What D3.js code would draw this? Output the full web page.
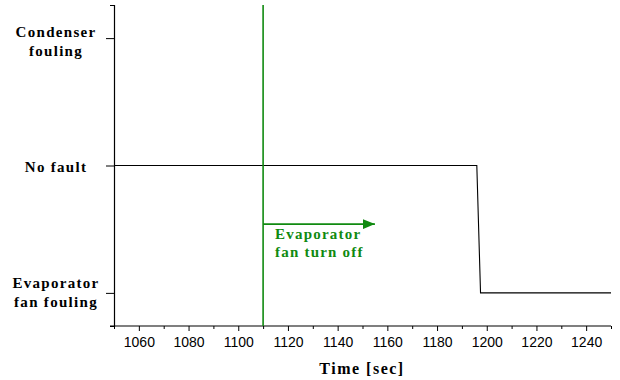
<!DOCTYPE html>
<html>
<head>
<meta charset="utf-8">
<script src="https://cdn.jsdelivr.net/npm/d3@7"></script>
<style>
  html, body { margin: 0; padding: 0; background: #fff; }
  svg { display: block; }
</style>
</head>
<body>
<svg id="chart" width="620" height="380"></svg>
<script>
// Fault state over time
const times  = [1050, 1196, 1197.5, 1250];
const states = [2, 2, 1, 1];

// State categories on the vertical axis
const stateValues = [3, 2, 1];
const stateLabels = [["Condenser", "fouling"], ["No fault"], ["Evaporator", "fan fouling"]];

// Time axis ticks
const majorTicks = [1060, 1080, 1100, 1120, 1140, 1160, 1180, 1200, 1220, 1240];
const minorTicks = [1050, 1070, 1090, 1110, 1130, 1150, 1170, 1190, 1210, 1230, 1250];

// Event annotation
const eventTime = 1110;
const arrowEnd = 1155;
const arrowLevel = 1.54;
const eventText = ["Evaporator", "fan turn off"];

const svg = d3.select("#chart");
const x = d3.scaleLinear().domain([1050, 1250]).range([114, 611]);
const y = d3.scaleLinear().domain([0.74, 3.26]).range([326, 5]);

const serif = "'Liberation Serif', 'Times New Roman', serif";
const sans = "'Liberation Sans', Arial, sans-serif";

// X axis: minor ticks, then labelled major ticks
const gxMinor = svg.append("g").attr("transform", `translate(0,${y.range()[0]})`)
  .call(d3.axisBottom(x).tickValues(minorTicks).tickSize(3).tickSizeOuter(0).tickFormat(""));
gxMinor.select(".domain").remove();
gxMinor.selectAll("line").attr("stroke", "#000");

const gx = svg.append("g").attr("transform", `translate(0,${y.range()[0]})`)
  .call(d3.axisBottom(x).tickValues(majorTicks).tickSize(5).tickSizeOuter(0).tickPadding(6).tickFormat(d3.format("d")));
gx.select(".domain").remove();
gx.selectAll("line").attr("stroke", "#000");
gx.selectAll("text").attr("font-family", sans).attr("font-size", "14px").attr("fill", "#000");

// Axis lines
svg.append("line").attr("x1", x.range()[0] - 4).attr("x2", x.range()[1])
  .attr("y1", y.range()[0]).attr("y2", y.range()[0]).attr("stroke", "#000").attr("stroke-width", 1.2);

// Y axis with category ticks and short end ticks
const gy = svg.append("g").attr("transform", `translate(${x.range()[0]},0)`)
  .call(d3.axisLeft(y).tickValues(stateValues).tickSize(8).tickSizeOuter(4).tickFormat(""));
gy.select(".domain").attr("stroke", "#000").attr("stroke-width", 1.2);
gy.selectAll("line").attr("stroke", "#000");

// Category labels
stateValues.forEach((v, i) => {
  const lines = stateLabels[i];
  const t = svg.append("text")
    .attr("font-family", serif).attr("font-weight", "bold").attr("font-size", "15px")
    .attr("letter-spacing", "1.3px").attr("text-anchor", "middle").attr("fill", "#000");
  const base = lines.length === 1 ? y(v) + 6 : y(v) - 1 + (v === 1 ? -4 : 0);
  lines.forEach((s, j) => {
    t.append("tspan").attr("x", 56).attr("y", base + j * 19).text(s);
  });
});

// X axis title
svg.append("text").attr("x", 362).attr("y", 374)
  .attr("font-family", serif).attr("font-weight", "bold").attr("font-size", "16px")
  .attr("letter-spacing", "1.5px").attr("text-anchor", "middle").attr("fill", "#000")
  .text("Time [sec]");

// State trace
const line = d3.line().x((d, i) => x(times[i])).y(d => y(d));
svg.append("path").datum(states).attr("d", line)
  .attr("fill", "none").attr("stroke", "#000").attr("stroke-width", 1.1);

// Event marker
const green = "#108a10";
svg.append("line").attr("x1", x(eventTime)).attr("x2", x(eventTime))
  .attr("y1", y.range()[1]).attr("y2", y.range()[0])
  .attr("stroke", green).attr("stroke-width", 1.6);

svg.append("defs").append("marker").attr("id", "head")
  .attr("viewBox", "0 0 12 10").attr("refX", 12).attr("refY", 5)
  .attr("markerWidth", 12).attr("markerHeight", 10).attr("markerUnits", "userSpaceOnUse")
  .attr("orient", "auto")
  .append("path").attr("d", "M0,0 L12,5 L0,10 Z").attr("fill", green);

svg.append("line").attr("x1", x(eventTime)).attr("x2", x(arrowEnd))
  .attr("y1", y(arrowLevel)).attr("y2", y(arrowLevel))
  .attr("stroke", green).attr("stroke-width", 1.6).attr("marker-end", "url(#head)");

const et = svg.append("text").attr("font-family", serif).attr("font-weight", "bold")
  .attr("font-size", "15px").attr("letter-spacing", "1.2px").attr("fill", green);
eventText.forEach((s, j) => {
  et.append("tspan").attr("x", x(eventTime) + 12).attr("y", y(arrowLevel) + 14.5 + j * 18.5).text(s);
});
</script>
</body>
</html>
